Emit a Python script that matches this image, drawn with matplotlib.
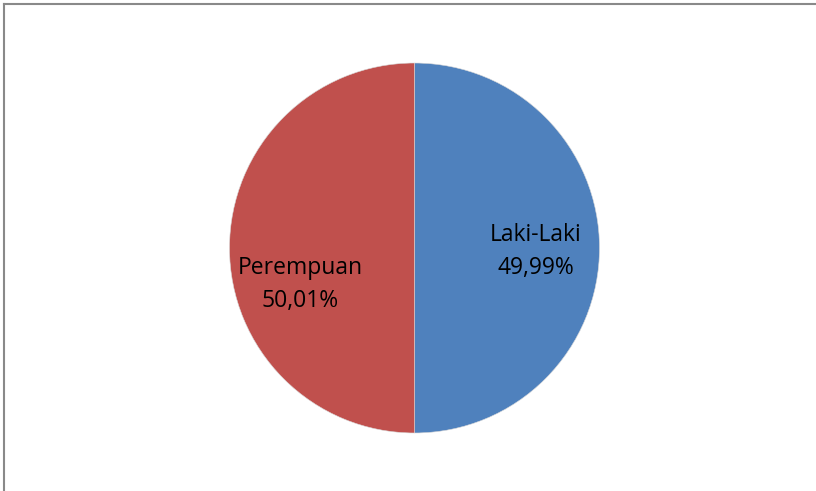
import matplotlib
matplotlib.use("Agg")
import matplotlib.pyplot as plt
from matplotlib.lines import Line2D

categories = ["Laki-Laki", "Perempuan"]
values = [49.99, 50.01]
value_labels = ["49,99%", "50,01%"]
colors = ["#4F81BD", "#C0504D"]

W, H = 816, 491
fig = plt.figure(figsize=(W / 100, H / 100), dpi=100)
fig.patch.set_facecolor("white")

# border (left and top visible, right/bottom outside the image)
fig.add_artist(Line2D([3.5 / W, 3.5 / W], [0, 1 - 3.5 / H], transform=fig.transFigure,
                      color="#898989", lw=1.5))
fig.add_artist(Line2D([3.5 / W, 1], [1 - 3.5 / H, 1 - 3.5 / H], transform=fig.transFigure,
                      color="#898989", lw=1.5))

cx, cy, r = 414.5, 248, 185
ax = fig.add_axes([(cx - r) / W, (H - cy - r) / H, 2 * r / W, 2 * r / H])
wedges, _ = ax.pie(values, colors=colors, startangle=90, counterclock=False,
                   radius=1, wedgeprops=dict(edgecolor="#d9d9d9", linewidth=0.4))
ax.set_xlim(-1, 1)
ax.set_ylim(-1, 1)
ax.set_aspect("equal")
ax.axis("off")

label_pos = [(0.655, -0.02), (-0.617, -0.20)]
for cat, lab, (x, y) in zip(categories, value_labels, label_pos):
    ax.text(x, y, f"{cat}\n{lab}", ha="center", va="center", fontsize=16.5,
            family="Open Sans", color="black", linespacing=1.5)

fig.savefig("out.png", dpi=100)
